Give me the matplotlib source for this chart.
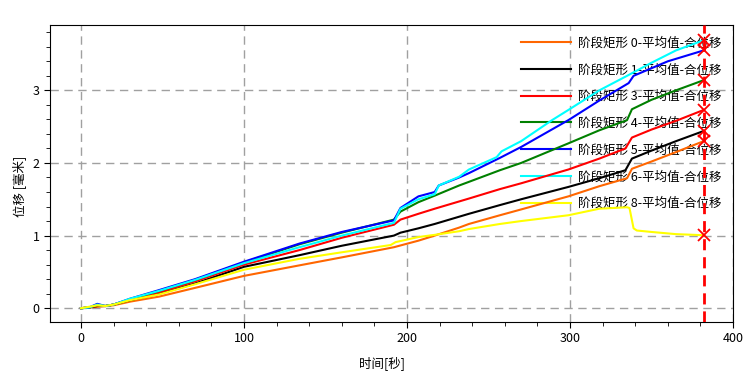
import numpy as np
import matplotlib.pyplot as plt
from matplotlib.ticker import MultipleLocator

plt.rcParams['font.family'] = ['Noto Sans CJK SC', 'DejaVu Sans']

# time / displacement pairs, one pair of lists per series
t0 = [0, 5, 10, 15, 20, 30, 48, 70, 100, 134, 160, 192, 207, 217, 232, 238, 257, 270, 299, 318, 335, 338, 350, 365, 382]
v0 = [0, 0.01, 0.02, 0.03, 0.04, 0.09, 0.16, 0.28, 0.445, 0.59, 0.70, 0.84, 0.93, 1.00, 1.11, 1.16, 1.28, 1.36, 1.54, 1.68, 1.79, 1.92, 2.02, 2.15, 2.30]

t1 = [0, 5, 10, 15, 20, 30, 48, 70, 100, 134, 160, 192, 196, 207, 217, 232, 238, 257, 270, 299, 318, 334, 338, 350, 365, 382]
v1 = [0, 0.01, 0.03, 0.03, 0.05, 0.11, 0.20, 0.34, 0.57, 0.73, 0.86, 1.00, 1.04, 1.10, 1.16, 1.26, 1.30, 1.42, 1.50, 1.67, 1.79, 1.90, 2.06, 2.17, 2.30, 2.44]

t3 = [0, 5, 10, 15, 20, 30, 48, 70, 100, 134, 160, 192, 196, 207, 217, 232, 238, 257, 270, 299, 318, 334, 338, 350, 365, 382]
v3 = [0, 0.01, 0.03, 0.03, 0.05, 0.12, 0.22, 0.37, 0.60, 0.80, 0.97, 1.15, 1.22, 1.30, 1.37, 1.47, 1.51, 1.64, 1.72, 1.91, 2.06, 2.20, 2.35, 2.46, 2.58, 2.73]

t4 = [0, 5, 10, 15, 20, 30, 48, 70, 100, 134, 160, 192, 196, 207, 217, 232, 238, 257, 270, 299, 318, 335, 338, 350, 365, 382]
v4 = [0, 0.01, 0.04, 0.03, 0.05, 0.12, 0.24, 0.39, 0.63, 0.88, 1.04, 1.22, 1.33, 1.46, 1.55, 1.69, 1.74, 1.90, 2.00, 2.27, 2.45, 2.59, 2.74, 2.87, 3.00, 3.14]

t5 = [0, 5, 10, 15, 20, 30, 48, 70, 100, 134, 160, 192, 196, 207, 217, 219.5, 232, 238, 257, 270, 299, 318, 336, 339, 360, 382]
v5 = [0, 0.01, 0.06, 0.03, 0.05, 0.13, 0.25, 0.40, 0.64, 0.89, 1.05, 1.21, 1.38, 1.54, 1.60, 1.69, 1.80, 1.86, 2.07, 2.22, 2.59, 2.86, 3.10, 3.20, 3.40, 3.55]

t6 = [0, 5, 10, 15, 20, 30, 48, 70, 100, 134, 160, 192, 196, 207, 217, 219.5, 232, 238, 255, 258, 270, 289, 299, 318, 335, 350, 365, 382]
v6 = [0, 0.01, 0.05, 0.03, 0.05, 0.13, 0.24, 0.39, 0.62, 0.84, 1.00, 1.175, 1.37, 1.50, 1.57, 1.69, 1.81, 1.91, 2.08, 2.16, 2.30, 2.59, 2.73, 3.00, 3.20, 3.38, 3.55, 3.69]

t8 = [0, 5, 10, 15, 20, 30, 48, 70, 100, 134, 160, 190, 193, 207, 217, 232, 238, 257, 270, 299, 318, 335, 336.5, 339, 341, 350, 365, 382]
v8 = [0, 0.02, 0.04, 0.03, 0.05, 0.11, 0.19, 0.33, 0.53, 0.68, 0.77, 0.87, 0.91, 0.98, 1.01, 1.06, 1.09, 1.16, 1.20, 1.28, 1.37, 1.39, 1.38, 1.10, 1.07, 1.05, 1.02, 1.005]

series = [
    (t0, v0, '#FF6600', '阶段矩形 0-平均值-合位移'),
    (t1, v1, 'black', '阶段矩形 1-平均值-合位移'),
    (t3, v3, 'red', '阶段矩形 3-平均值-合位移'),
    (t4, v4, 'green', '阶段矩形 4-平均值-合位移'),
    (t5, v5, 'blue', '阶段矩形 5-平均值-合位移'),
    (t6, v6, 'cyan', '阶段矩形 6-平均值-合位移'),
    (t8, v8, 'yellow', '阶段矩形 8-平均值-合位移'),
]
t_end = 382

fig = plt.figure(figsize=(7.51, 3.82), dpi=100)
ax = fig.add_axes([50/751, 1-322/382, 683/751, 297/382])

for t, v, c, lab in series:
    ax.plot(t, v, color=c, lw=1.5, label=lab, zorder=3)

ax.axvline(t_end, color='red', lw=2, ls=(0, (4, 2.5)), zorder=4)
ends = [s[1][-1] for s in series]
ax.plot([t_end]*len(ends), ends, 'x', color='red', ms=9, mew=1.3, zorder=5)

ax.set_xlim(-19, 400)
ax.set_ylim(-0.19, 3.9)
ax.xaxis.set_major_locator(MultipleLocator(100))
ax.xaxis.set_minor_locator(MultipleLocator(20))
ax.yaxis.set_major_locator(MultipleLocator(1))
ax.yaxis.set_minor_locator(MultipleLocator(0.2))
ax.tick_params(which='both', direction='out', top=False, right=False, labelsize=9)
ax.tick_params(which='major', length=4)
ax.tick_params(which='minor', length=3)
ax.grid(True, which='major', color='#A0A0A0', ls=(0, (6, 4)), lw=1)

ax.set_xlabel('时间[秒]', fontsize=9)
ax.set_ylabel('位移 [毫米]', fontsize=9)
ax.xaxis.set_label_coords(0.486, -0.115)
ax.yaxis.set_label_coords(-0.035, 0.455)

leg = ax.legend(loc='upper right', bbox_to_anchor=(1.0, 0.999), frameon=False,
                fontsize=9, handlelength=4.0, labelspacing=1.1, handletextpad=0.6)
leg.set_zorder(2)

plt.savefig('out.png', dpi=100)
